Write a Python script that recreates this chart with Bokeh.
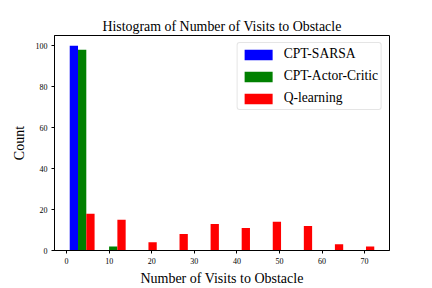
from bokeh.plotting import figure
from bokeh.models import ColumnDataSource, Legend, LegendItem, FixedTicker
from bokeh.transform import dodge
from bokeh.embed import file_html
from bokeh.resources import INLINE

# ---- data ----
bin_left = [0.0, 7.3, 14.6, 21.9, 29.2, 36.5, 43.8, 51.1, 58.4, 65.7]
bin_width = 7.3
series_names = ["CPT-SARSA", "CPT-Actor-Critic", "Q-learning"]
sarsa_counts = [100, 0, 0, 0, 0, 0, 0, 0, 0, 0]
actor_critic_counts = [98, 2, 0, 0, 0, 0, 0, 0, 0, 0]
qlearning_counts = [18, 15, 4, 8, 13, 11, 14, 12, 3, 2]
x_ticks = [0, 10, 20, 30, 40, 50, 60, 70]
y_ticks = [0, 20, 40, 60, 80, 100]
colors = ["#0000ff", "#008000", "#ff0000"]

FONT = "Liberation Serif"

centers = [l + bin_width / 2 for l in bin_left]
source = ColumnDataSource(dict(center=centers, s0=sarsa_counts,
                               s1=actor_critic_counts, s2=qlearning_counts))

n = len(series_names)
bar_w = 0.8 * bin_width / n
lo = bin_left[0] + 0.1 * bin_width
hi = bin_left[-1] + bin_width - 0.1 * bin_width
pad = 0.05 * (hi - lo)

p = figure(width=432, height=288, output_backend="svg", toolbar_location=None,
           x_range=(lo - pad, hi + pad), y_range=(0, 105),
           min_border_left=54, min_border_right=43, min_border_top=35,
           min_border_bottom=36)
p.background_fill_color = "white"
p.border_fill_color = "white"
p.outline_line_color = "black"
p.outline_line_width = 1
p.grid.visible = False

p.title.text = "Histogram of Number of Visits to Obstacle"
p.title.align = "center"
p.title.text_font = FONT
p.title.text_font_size = "13.9px"
p.title.text_font_style = "normal"
p.title.text_color = "black"
p.title.standoff = 4

renderers = []
for i, col in enumerate(["s0", "s1", "s2"]):
    off = (i - (n - 1) / 2) * bar_w
    r = p.vbar(x=dodge("center", off, range=p.x_range), top=col, width=bar_w,
               bottom=0, source=source, fill_color=colors[i], line_color=None)
    renderers.append(r)

for ax in (p.xaxis[0], p.yaxis[0]):
    ax.major_tick_out = 3
    ax.major_tick_in = 0
    ax.minor_tick_line_color = None
    ax.axis_line_color = "black"
    ax.major_tick_line_color = "black"
    ax.major_label_text_font = FONT
    ax.major_label_text_font_size = "8px"
    ax.major_label_text_color = "black"
    ax.axis_label_text_font = FONT
    ax.axis_label_text_font_size = "14px"
    ax.axis_label_text_font_style = "normal"
    ax.axis_label_text_color = "black"
    ax.major_label_standoff = 4
    ax.axis_label_standoff = 4

p.xaxis.ticker = FixedTicker(ticks=x_ticks)
p.yaxis.ticker = FixedTicker(ticks=y_ticks)
p.xaxis.axis_label = "Number of Visits to Obstacle"
p.yaxis.axis_label = "Count"
p.yaxis.axis_label_standoff = 6

legend = Legend(items=[LegendItem(label=series_names[i], renderers=[renderers[i]])
                       for i in range(n)],
                location="top_right")
legend.margin = 7
legend.padding = 3
legend.spacing = 6
legend.glyph_width = 35
legend.glyph_height = 13
legend.label_height = 15
legend.label_standoff = 8
legend.label_text_font = FONT
legend.label_text_font_size = "13.6px"
legend.label_text_color = "black"
legend.border_line_color = "#cccccc"
legend.border_line_width = 1
legend.background_fill_color = "white"
legend.background_fill_alpha = 0.8
if hasattr(legend, "border_radius"):
    legend.border_radius = 3
p.add_layout(legend, "center")

open("out.html", "w").write(file_html(p, INLINE))
